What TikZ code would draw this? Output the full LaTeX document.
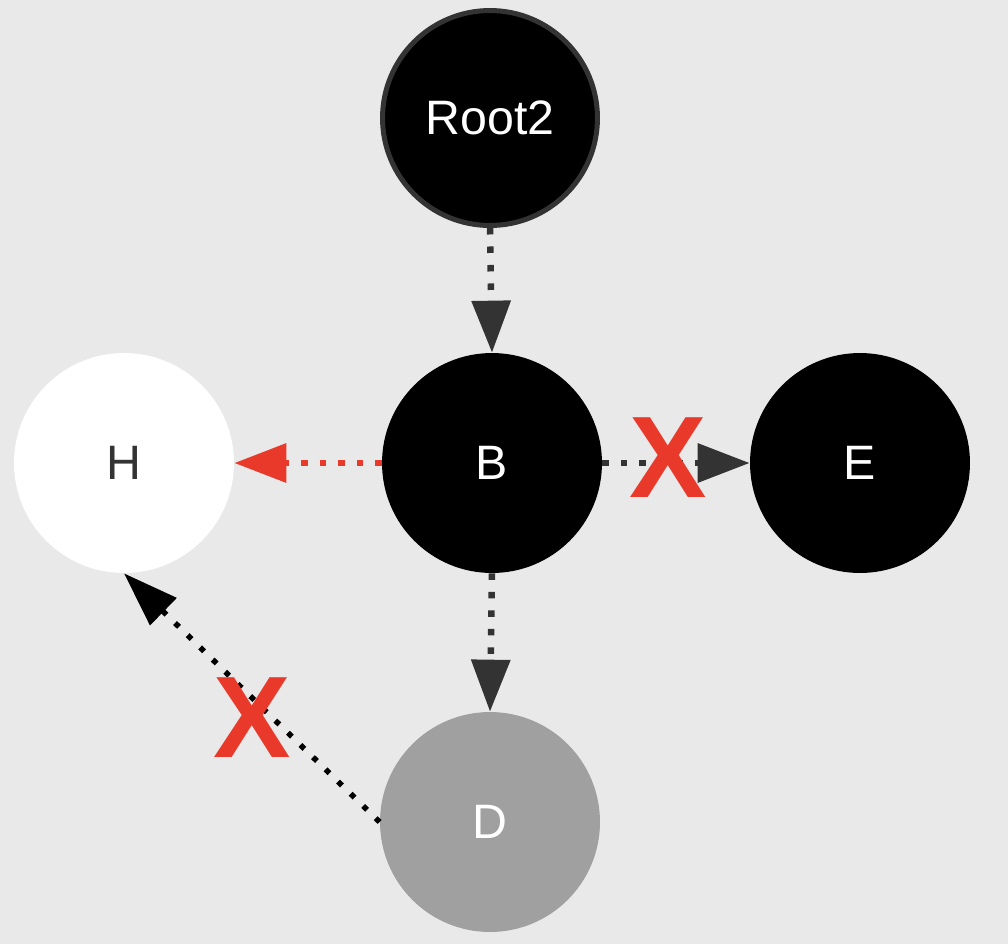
\documentclass[tikz,border=0pt]{standalone}
\usepackage{fontspec}
\setmainfont{Liberation Sans}
\usetikzlibrary{arrows.meta}
\definecolor{bg}{HTML}{E9E9E9}
\definecolor{dk}{HTML}{333333}
\definecolor{rd}{HTML}{E8392B}
\definecolor{gr}{HTML}{A0A0A0}
\tikzset{
  vtx/.style={circle, minimum size=4.4cm, inner sep=0pt, text=white,
    font=\fontsize{27.5}{30}\selectfont},
  link/.style={line width=0.13cm, dash pattern=on 0.13cm off 0.24cm,
    -{Triangle[length=1.04cm,width=0.76cm]}},
  xmark/.style={text=rd, inner sep=0pt, font=\fontsize{66}{70}\selectfont\bfseries}
}
\begin{document}
\begin{tikzpicture}[x=0.02cm,y=-0.02cm]
\fill[bg] (0,0) rectangle (1008,944);
\useasboundingbox (0,0) rectangle (1008,944);
\node[vtx, fill=black, draw=dk, line width=0.1cm, minimum size=4.3cm] (root) at (490,118) {Root2};
\node[vtx, fill=black] (B) at (492,463) {B};
\node[vtx, fill=black] (E) at (860,463) {E};
\node[vtx, fill=white, text=dk] (H) at (124,463) {H};
\node[vtx, fill=gr] (D) at (490,822) {D};
\draw[link, dk] (root.south) -- (B.north);
\draw[link, dk] (B.south) -- (D.north);
\draw[link, rd] (B.west) -- (H.east);
\draw[link, dk] (B.east) -- (E.west)
  node[xmark, pos=0.45, yshift=0.1cm] (x1) {X};
\draw[black, line width=0.11cm, dash pattern=on 0.11cm off 0.24cm,
  -{Triangle[length=1.1cm,width=0.74cm]}] (D.west) -- (H.south)
  node[xmark, pos=0.5, yshift=-0.4cm] (x2) {X};
\end{tikzpicture}
\end{document}
